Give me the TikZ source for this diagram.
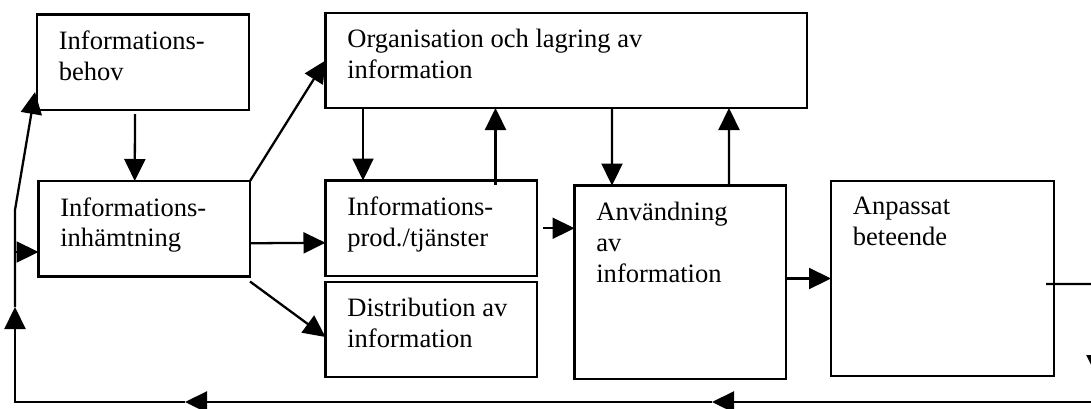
\documentclass[tikz,border=0pt]{standalone}
\usepackage{fontspec}
\setmainfont{Liberation Serif}
\usepackage{tikz}
\usetikzlibrary{arrows.meta,positioning,calc}
\tikzstyle{arr}=[-{Triangle[length=0.44cm,width=0.42cm]}, line width=1.3pt]
\tikzstyle{box}=[draw, line width=1.3pt, anchor=north west, outer sep=0pt, minimum height=1.91cm]
\tikzstyle{txt}=[anchor=north west, align=left, inner sep=0pt]

\begin{document}
\begin{tikzpicture}[every node/.style={font=\fontsize{15.1}{17.6}\selectfont}]
  \useasboundingbox (0,0) rectangle (21.82,-8.16);

  % ── boxes ─────────────────────────────────────────────────────────────────
  \node[box, minimum width=4.24cm] (behov) at (0.74,-0.29) {};
  \node[box, minimum width=9.63cm, minimum height=1.90cm] (org) at (6.51,-0.26) {};
  \node[box, minimum width=4.23cm] (inh) at (0.77,-3.62) {};
  \node[box, minimum width=4.23cm] (prod) at (6.51,-3.61) {};
  \node[box, minimum width=4.23cm, minimum height=1.90cm] (dist) at (6.51,-5.64) {};
  \node[box, minimum width=4.23cm, minimum height=3.87cm] (anv) at (11.49,-3.71) {};
  \node[box, minimum width=4.46cm, minimum height=3.90cm] (anp) at (16.62,-3.62) {};

  % ── texts ─────────────────────────────────────────────────────────────────
  \node[txt] (behovt) at ([xshift=0.43cm,yshift=-0.32cm]behov.north west) {Informations-\\behov};
  \node[txt] (orgt)   at ([xshift=0.43cm,yshift=-0.32cm]org.north west)   {Organisation och lagring av\\information};
  \node[txt] (inht)   at ([xshift=0.43cm,yshift=-0.32cm]inh.north west)   {Informations-\\inhämtning};
  \node[txt] (prodt)  at ([xshift=0.43cm,yshift=-0.32cm]prod.north west)  {Informations-\\prod./tjänster};
  \node[txt] (distt)  at ([xshift=0.43cm,yshift=-0.32cm]dist.north west)  {Distribution av\\information};
  \node[txt] (anvt)   at ([xshift=0.43cm,yshift=-0.32cm]anv.north west)   {Användning\\av\\information};
  \node[txt] (anpt)   at ([xshift=0.43cm,yshift=-0.32cm]anp.north west)   {Anpassat\\beteende};

  % ── loop corners ──────────────────────────────────────────────────────────
  \coordinate (ne)  at (21.94,-5.68);
  \coordinate (se)  at (21.94,-7.54);
  \coordinate (b0)  at (21.94,-8.04);
  \coordinate (b1)  at (14.24,-8.04);
  \coordinate (b2)  at (3.70,-8.04);
  \coordinate (sw)  at (0.30,-8.04);
  \coordinate (l1)  at (0.30,-6.14);
  \coordinate (lk)  at (0.30,-4.20);
  \coordinate (lin) at (0.30,-5.04);

  % ── arrows ────────────────────────────────────────────────────────────────
  \draw[arr] ([xshift=-0.16cm,yshift=-0.08cm]behov.south) -- ([xshift=-0.19cm]inh.north);
  \draw[arr] (inh.north east) -- (org.west);
  \draw[arr] ([yshift=-0.29cm]inh.east) -- ([yshift=-0.29cm]prod.west);
  \draw[arr] ([yshift=-0.1cm]inh.south east) -- ([yshift=-0.15cm]dist.west);
  \draw[arr] ([xshift=0.75cm]org.south west) -- ([xshift=0.75cm]prod.north west);
  \draw[arr] ([xshift=3.4cm,yshift=-0.09cm]prod.north west) -- ([xshift=3.4cm]org.south west);
  \draw[arr] ([xshift=5.73cm]org.south west) -- ([xshift=0.75cm]anv.north west);
  \draw[arr] ([xshift=3.09cm]anv.north west) -- ([xshift=8.07cm]org.south west);
  \draw[arr] ([xshift=0.12cm]prod.east) -- (prod.east -| anv.west);
  \draw[arr] (anv.east |- anp.west) -- (anp.west);
  \draw[arr] ([xshift=-0.16cm,yshift=-0.11cm]anp.east) -- (ne) -- (se);
  \draw[arr] (b0) -- (b1);
  \draw[arr] (b1) -- (b2);
  \draw[arr] (b2) -- (sw) -- (l1);
  \draw[arr] (l1) -- (lk) -- ([xshift=-0.04cm,yshift=0.36cm]behov.south west);
  \draw[arr] (lin) -- (lin -| inh.west);

\end{tikzpicture}
\end{document}
